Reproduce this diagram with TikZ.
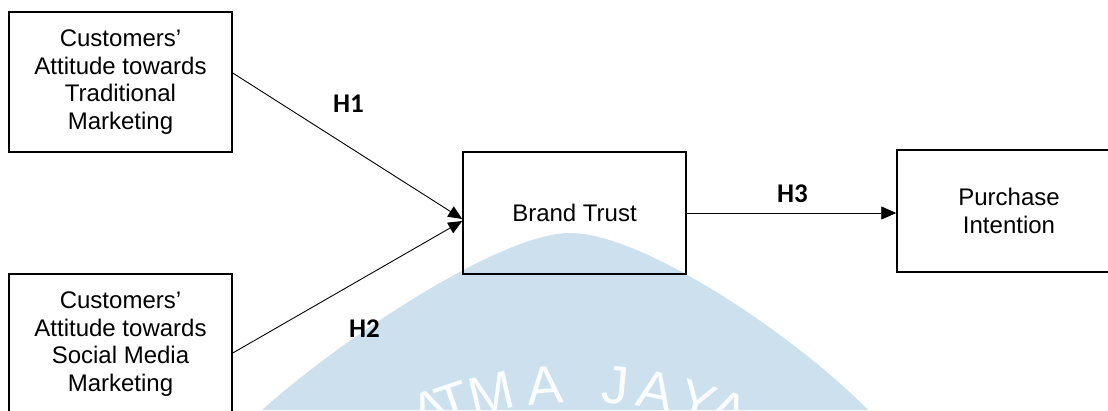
\documentclass[tikz,border=0pt]{standalone}
\usepackage{fontspec}
\setmainfont{Liberation Sans}
\newfontfamily\hfont{Carlito}
\usetikzlibrary{arrows.meta,calc}
\definecolor{wmblue}{RGB}{204,224,238}
\definecolor{wmtext}{RGB}{250,252,254}
\begin{document}
\begin{tikzpicture}[x=1pt,y=-1pt,
  box/.style={draw=black, line width=1.5pt, minimum width=223pt, minimum height=140pt,
    align=center, inner sep=0pt, font=\fontsize{24}{27.7}\selectfont},
  conn/.style={line width=0.9pt, -{Triangle[length=14pt,width=12pt]}},
  hyp/.style={font=\hfont\bfseries\fontsize{27}{30}\selectfont, anchor=base, inner sep=0pt},
  wm/.style={text=wmtext, font=\fontsize{54}{54}\selectfont, anchor=base, inner sep=0pt}]
\useasboundingbox (0,0) rectangle (1108,410);
\clip (0,0) rectangle (1108,410);
% watermark
\fill[wmblue] (262,410) .. controls (340,340) and (500,233) .. (570,233)
  .. controls (645,233) and (800,340) .. (868,410) -- cycle;
\node[wm, rotate=22.0]  (w1) at (437,427) {A};
\node[wm, rotate=18.6]  (w2) at (459,420) {T};
\node[wm, rotate=13.0]  (w3) at (495,411) {M};
\node[wm, rotate=4.6]   (w4) at (546,404) {A};
\node[wm, rotate=-5.1]  (w5) at (614,404) {J};
\node[wm, rotate=-11.3] (w6) at (652,409) {A};
\node[wm, rotate=-17.7] (w7) at (692,419) {Y};
\node[wm, rotate=-22.0] (w8) at (722,428) {A};
% boxes
\node[box] (b1) at (120.5,82) {Customers’\\Attitude towards\\Traditional\\Marketing};
\node[box] (b2) at (120.5,344) {Customers’\\Attitude towards\\Social Media\\Marketing};
\node[box, minimum height=122pt] (bt) at (574.5,213) {Brand Trust};
\node[box, minimum width=224pt, minimum height=122pt] (pi) at (1009,211) {Purchase\\Intention};
% connectors
\draw[conn] ($(b1.east)+(0,-9)$) -- ($(bt.west)+(0,6)$);
\draw[conn] ($(b2.east)+(0,9)$) -- ($(bt.west)+(0,8)$);
\draw[line width=0.9pt, -{Triangle[length=15pt,width=13pt]}] (bt.east) -- (bt.east -| pi.west);
% labels
\node[hyp] (h1) at (348.5,112) {H1};
\node[hyp] (h2) at (364.5,337) {H2};
\node[hyp] (h3) at (792.5,202) {H3};
\end{tikzpicture}
\end{document}
